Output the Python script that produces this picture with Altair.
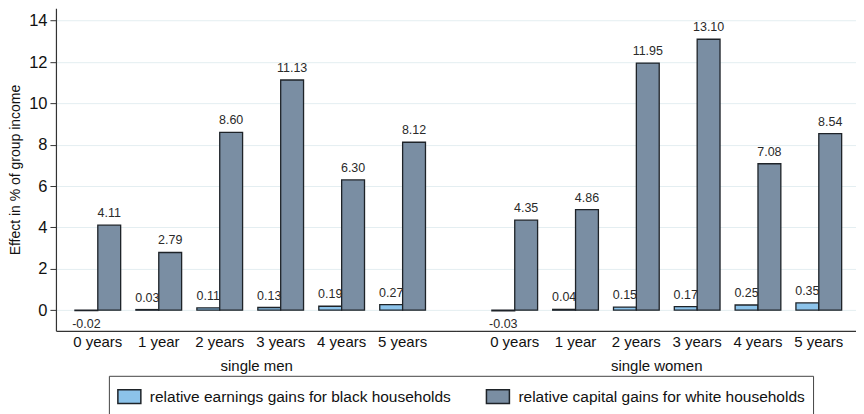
import altair as alt
import pandas as pd

# categories and values
groups = ["single men", "single women"]
years = ["0 years", "1 year", "2 years", "3 years", "4 years", "5 years"]
series = [
    "relative earnings gains for black households",
    "relative capital gains for white households",
]
men_black = [-0.02, 0.03, 0.11, 0.13, 0.19, 0.27]
men_white = [4.11, 2.79, 8.60, 11.13, 6.30, 8.12]
women_black = [-0.03, 0.04, 0.15, 0.17, 0.25, 0.35]
women_white = [4.35, 4.86, 11.95, 13.10, 7.08, 8.54]
y_ticks = [0, 2, 4, 6, 8, 10, 12, 14]

FONT = "Liberation Sans"
FILLS = ["#8cc3ea", "#7a8ea3"]
EDGE = "#1e2328"
GRID = "#e4eef1"


def _frame(group, black, white):
    rows = []
    for yr, b, w in zip(years, black, white):
        rows.append({"group": group, "year": yr, "reeks": series[0], "waarde": b})
        rows.append({"group": group, "year": yr, "reeks": series[1], "waarde": w})
    return pd.DataFrame(rows)


def panel(df, title, width, align, first):
    x = alt.X(
        "year:N",
        sort=years,
        title=title,
        scale=alt.Scale(paddingInner=0.25, paddingOuter=0.41, align=align),
        axis=alt.Axis(
            labelAngle=0, ticks=False, labelPadding=4, labelFontSize=15,
            labelColor="#111", titleFontSize=15, titleFontWeight="normal",
            titleColor="#111", titlePadding=9, domainColor="#333",
            domainWidth=1.2, grid=False,
        ),
    )
    if first:
        y_axis = alt.Axis(
            values=y_ticks, title="Effect in % of group income", grid=True,
            gridColor=GRID, tickSize=6, tickColor="#333", labelFontSize=16.5,
            labelColor="#111", labelPadding=3, titleFontSize=14,
            titleFontWeight="normal", titleColor="#111", titlePadding=6,
            domainColor="#333", domainWidth=1.2,
        )
    else:
        y_axis = alt.Axis(
            values=y_ticks, title=None, grid=True, gridColor=GRID,
            labels=False, ticks=False, domain=False,
        )
    y = alt.Y(
        "waarde:Q",
        scale=alt.Scale(domain=[-1.0, 14.6], nice=False, zero=False),
        axis=y_axis,
    )
    legend = None
    if first:
        legend = alt.Legend(
            title=None, orient="none", direction="horizontal",
            legendX=53, legendY=368, strokeColor="#444", padding=8,
            fillColor="white", labelFontSize=15.5, labelColor="#111",
            labelLimit=0, symbolType="M-1,-0.6H1V0.6H-1Z", symbolSize=529,
            symbolStrokeColor=EDGE, symbolStrokeWidth=1.5, symbolOpacity=1,
            columnPadding=32, labelOffset=8,
        )
    color = alt.Color(
        "reeks:N",
        scale=alt.Scale(domain=series, range=FILLS),
        sort=series,
        legend=legend,
    )
    xoff = alt.XOffset("reeks:N", sort=series, scale=alt.Scale(paddingInner=0))

    base = alt.Chart(df).encode(x=x, xOffset=xoff).transform_calculate(
        label="replace(format(datum.waarde, '.2f'), '\u2212', '-')"
    )
    bars = base.mark_bar(stroke=EDGE, strokeWidth=1.3, opacity=1).encode(
        y=y, y2=alt.datum(0), color=color
    )
    pos = base.transform_filter("datum.waarde >= 0").mark_text(
        baseline="bottom", dy=-5, fontSize=12.5, font=FONT, color="#2a2a2a"
    ).encode(y=alt.Y("waarde:Q"), text="label:N")
    neg = base.transform_filter("datum.waarde < 0").mark_text(
        baseline="top", dy=7, fontSize=12.5, font=FONT, color="#2a2a2a"
    ).encode(y=alt.Y("waarde:Q"), text="label:N")
    return alt.layer(bars, pos, neg).properties(width=width, height=323)


left = panel(_frame(groups[0], men_black, men_white), groups[0], 401, 0.38, True)
right = panel(_frame(groups[1], women_black, women_white), groups[1], 400, 0.71, False)

chart = (
    alt.hconcat(left, right, spacing=0)
    .resolve_scale(color="shared", y="shared")
    .properties(padding=0)
    .configure(font=FONT)
    .configure_view(stroke=None)
)

chart.save("out.html", embed_options={"renderer": "svg", "actions": False})
